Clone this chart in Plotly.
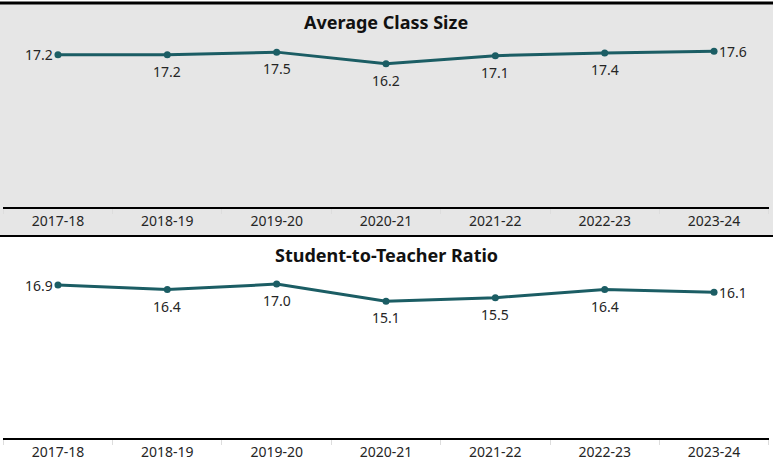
import plotly.graph_objects as go

years = ["2017-18", "2018-19", "2019-20", "2020-21", "2021-22", "2022-23", "2023-24"]
class_size = [17.2, 17.2, 17.5, 16.2, 17.1, 17.4, 17.6]
ratio = [16.9, 16.4, 17.0, 15.1, 15.5, 16.4, 16.1]

W, H = 773, 467
LINE = "#1b5d64"
FONT = "Segoe UI, Noto Sans, Open Sans, sans-serif"

fig = go.Figure()
annotations = []
for vals, xa, ya in [(class_size, "x", "y"), (ratio, "x2", "y2")]:
    fig.add_trace(go.Scatter(
        x=years, y=vals, xaxis=xa, yaxis=ya,
        mode="lines+markers",
        line=dict(color=LINE, width=3),
        marker=dict(color=LINE, size=7),
        cliponaxis=False, showlegend=False, hoverinfo="skip",
    ))
    n = len(vals)
    for i, (cat, v) in enumerate(zip(years, vals)):
        a = dict(x=cat, y=v, xref=xa, yref=ya, text=f"{v:.1f}", showarrow=False,
                 font=dict(size=14, color="#252525", family=FONT))
        if i == 0:
            a.update(xanchor="right", yanchor="middle", xshift=-3)
        elif i == n - 1:
            a.update(xanchor="left", yanchor="middle", xshift=3)
        else:
            a.update(xanchor="center", yanchor="top", yshift=-5)
        annotations.append(a)

xdom = [3.3 / W, 768.7 / W]
xcommon = dict(
    type="category", range=[-0.5, 6.5], domain=xdom,
    showline=True, linecolor="black", linewidth=2,
    showgrid=False, zeroline=False,
    ticks="outside", tickson="boundaries", ticklen=5, tickcolor="#dddddd", tickwidth=1,
    tickfont=dict(size=14, color="#252525", family=FONT),
)
annotations += [
    dict(text="<b>Average Class Size</b>", xref="paper", yref="paper",
         x=386 / W, y=(H - 22) / H, showarrow=False, xanchor="center", yanchor="middle",
         font=dict(size=18, color="#111111", family=FONT)),
    dict(text="<b>Student-to-Teacher Ratio</b>", xref="paper", yref="paper",
         x=386 / W, y=(H - 255) / H, showarrow=False, xanchor="center", yanchor="middle",
         font=dict(size=18, color="#111111", family=FONT)),
]
fig.update_layout(
    width=W, height=H,
    margin=dict(l=0, r=0, t=0, b=0),
    paper_bgcolor="white", plot_bgcolor="rgba(0,0,0,0)",
    xaxis=dict(anchor="y", **xcommon),
    xaxis2=dict(anchor="y2", **xcommon),
    yaxis=dict(domain=[(H - 207) / H, (H - 30) / H], range=[0, 20], visible=False, fixedrange=True),
    yaxis2=dict(domain=[(H - 438) / H, (H - 266) / H], range=[0, 19], visible=False, fixedrange=True),
    shapes=[
        dict(type="rect", xref="paper", yref="paper", x0=0, x1=1,
             y0=(H - 236) / H, y1=(H - 3) / H, fillcolor="#e6e6e6", line_width=0, layer="below"),
        dict(type="line", xref="paper", yref="paper", x0=0, x1=1,
             y0=(H - 3) / H, y1=(H - 3) / H, line=dict(color="black", width=3)),
        dict(type="line", xref="paper", yref="paper", x0=0, x1=1,
             y0=(H - 236) / H, y1=(H - 236) / H, line=dict(color="black", width=2)),
    ],
    annotations=annotations,
)
fig.write_html("out.html", config={"displayModeBar": False},
               post_script="document.body.style.margin='0';document.body.style.overflow='hidden';")
